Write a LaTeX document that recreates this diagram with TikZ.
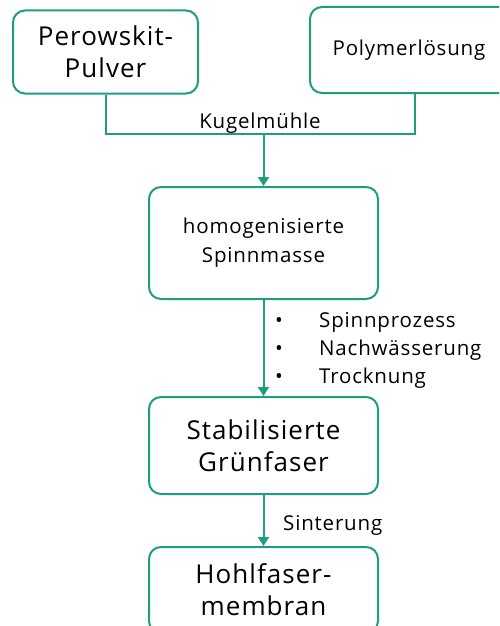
\documentclass[tikz,border=0pt]{standalone}
\usepackage{fontspec}
\setmainfont{Open Sans}[LetterSpace=4]
\usetikzlibrary{arrows.meta, positioning}

\definecolor{fhgreen}{HTML}{1F9E7F}

\begin{document}
\begin{tikzpicture}[x=1pt, y=-1pt,
    box/.style={draw=fhgreen, line width=2pt, rounded corners=12pt, align=center, inner sep=0pt},
    big/.style={font=\fontsize{26}{32}\selectfont},
    mid/.style={font=\fontsize{20.5}{29}\selectfont},
    link/.style={draw=fhgreen, line width=2pt},
    pfeil/.style={link, -{Triangle[width=11pt,length=9pt]}}]
            \clip (0,0) rectangle (499,626);
            \useasboundingbox (0,0) rectangle (499,626);

            \node[box, big, minimum width=185pt, minimum height=83pt] (pulver) at (105.5, 52) {Perowskit-\\Pulver};
            \node[box, mid, minimum width=210pt, minimum height=86pt] (loesung) at (415, 50) {\hspace*{-12pt}Polymerlösung};
            \node[box, mid, minimum width=229pt, minimum height=112pt] (masse) at (263.5, 243) {homogenisierte\\Spinnmasse};
            \node[box, big, minimum width=229pt, minimum height=97pt] (faser) at (263.5, 445.5) {Stabilisierte\\Grünfaser};
            \node[box, big, minimum width=229pt, minimum height=86pt] (membran) at (263.5, 590) {Hohlfaser-\\membran};

            \coordinate (knick) at (263.5, 134);
            \node[mid, anchor=base] (kugel) at (260, 128) {Kugelmühle};
            \node[anchor=base west, align=left, inner sep=0pt, font=\fontsize{20.5}{28}\selectfont] (schritte) at (275, 383)
                {\makebox[44pt][l]{\textbullet}Spinnprozess\\
                 \makebox[44pt][l]{\textbullet}Nachwässerung\\
                 \makebox[44pt][l]{\textbullet}Trocknung};
            \node[mid, anchor=base west, inner sep=0pt] (sinter) at (283, 530) {Sinterung};

            \draw[link] (pulver.south) |- (knick) -| (loesung.south);
            \draw[pfeil] (knick) -- (masse.north);
            \draw[pfeil] (masse.south) -- (faser.north);
            \draw[pfeil] (faser.south) -- (membran.north);
\end{tikzpicture}
\end{document}
